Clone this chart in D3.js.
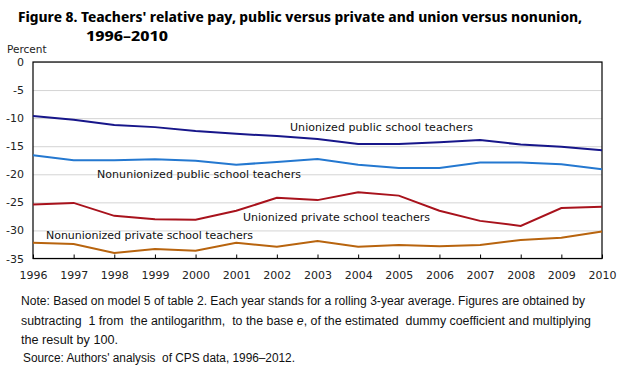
<!DOCTYPE html>
<html>
<head>
<meta charset="utf-8">
<script src="https://cdn.jsdelivr.net/npm/d3@7"></script>
<style>
  body { margin: 0; background: #fff; }
  svg { display: block; }
</style>
</head>
<body>
<div id="chart"></div>
<script>
// years and series
var years = [1996, 1997, 1998, 1999, 2000, 2001, 2002, 2003, 2004, 2005, 2006, 2007, 2008, 2009, 2010];
var unionPublic    = [-9.6, -10.3, -11.2, -11.6, -12.3, -12.8, -13.2, -13.7, -14.6, -14.6, -14.3, -13.9, -14.7, -15.1, -15.7];
var nonunionPublic = [-16.6, -17.5, -17.5, -17.3, -17.6, -18.3, -17.8, -17.3, -18.3, -18.9, -18.9, -17.9, -17.9, -18.2, -19.1];
var unionPrivate   = [-25.4, -25.1, -27.4, -28.0, -28.1, -26.5, -24.2, -24.6, -23.2, -23.8, -26.5, -28.3, -29.2, -26.0, -25.8];
var nonunionPrivate = [-32.2, -32.4, -34.0, -33.3, -33.6, -32.2, -32.9, -31.9, -32.9, -32.6, -32.8, -32.6, -31.7, -31.3, -30.2];
var yTicks = [0, -5, -10, -15, -20, -25, -30, -35];
var seriesNames = ["Unionized public school teachers", "Nonunionized public school teachers",
                   "Unionized private school teachers", "Nonunionized private school teachers"];

var W = 624, H = 375;
var svg = d3.select("#chart").append("svg").attr("width", W).attr("height", H);

var x = d3.scaleLinear().domain([1996, 2010]).range([33, 602]);
var y = d3.scaleLinear().domain([-35, 0]).range([258.5, 62]);

// title
var titleFont = "Noto Sans Display, Liberation Sans";
svg.append("text").attr("x", 18).attr("y", 22)
    .attr("font-family", titleFont).attr("font-weight", "bold").attr("font-size", 14.6)
    .attr("textLength", 564).attr("lengthAdjust", "spacingAndGlyphs")
    .text("Figure 8. Teachers' relative pay, public versus private and union versus nonunion,");
svg.append("text").attr("x", 86).attr("y", 41)
    .attr("font-family", titleFont).attr("font-weight", "bold").attr("font-size", 14.6)
    .attr("textLength", 82).attr("lengthAdjust", "spacingAndGlyphs")
    .text("1996–2010");

svg.append("text").attr("x", 7).attr("y", 53)
    .attr("font-family", "DejaVu Sans").attr("font-size", 10.5).attr("fill", "#222")
    .text("Percent");

// gridlines
svg.append("g")
    .attr("transform", "translate(" + x(1996) + ",0)")
    .call(d3.axisLeft(y).tickValues(yTicks).tickSize(-(x(2010) - x(1996))).tickFormat(""))
    .call(function (g) {
        g.select(".domain").remove();
        g.selectAll("line").attr("stroke", "#d4d4d4");
    });

// y labels (plain hyphen minus as in the original)
svg.append("g")
    .attr("transform", "translate(" + x(1996) + ",0)")
    .call(d3.axisLeft(y).tickValues(yTicks).tickSize(0).tickPadding(9).tickFormat(function (d) { return String(d); }))
    .call(function (g) {
        g.select(".domain").remove();
        g.selectAll("text").attr("font-family", "DejaVu Sans").attr("font-size", 11).attr("fill", "#222");
    });

// x axis, ticks pointing into the plot
svg.append("g")
    .attr("transform", "translate(0," + y(-35) + ")")
    .call(d3.axisBottom(x).tickValues(years).tickFormat(d3.format("d")).tickSizeInner(-4).tickSizeOuter(0).tickPadding(13))
    .call(function (g) {
        g.select(".domain").remove();
        g.selectAll("line").attr("stroke", "#000");
        g.selectAll("text").attr("font-family", "DejaVu Sans").attr("font-size", 11).attr("fill", "#222");
    });

// frame
svg.append("rect")
    .attr("x", x(1996)).attr("y", y(0))
    .attr("width", x(2010) - x(1996)).attr("height", y(-35) - y(0))
    .attr("fill", "none").attr("stroke", "#000").attr("stroke-width", 1.2);

var line = d3.line()
    .x(function (d, i) { return x(years[i]); })
    .y(function (d) { return y(d); });

var series = [
    { values: unionPublic, color: "#17168a" },
    { values: nonunionPublic, color: "#2478d0" },
    { values: unionPrivate, color: "#a8121c" },
    { values: nonunionPrivate, color: "#b8640e" }
];
series.forEach(function (s) {
    svg.append("path")
        .datum(s.values)
        .attr("d", line)
        .attr("fill", "none")
        .attr("stroke", s.color)
        .attr("stroke-width", 2);
});

// series labels
var labels = [
    { text: seriesNames[0], x: 290, y: 131, w: 183 },
    { text: seriesNames[1], x: 97, y: 178, w: 204 },
    { text: seriesNames[2], x: 243, y: 221, w: 187 },
    { text: seriesNames[3], x: 46, y: 239, w: 207 }
];
svg.selectAll(".lbl").data(labels).enter().append("text")
    .attr("class", "lbl")
    .attr("x", function (d) { return d.x; })
    .attr("y", function (d) { return d.y; })
    .attr("textLength", function (d) { return d.w; })
    .attr("lengthAdjust", "spacing")
    .attr("font-family", "DejaVu Sans").attr("font-size", 11).attr("fill", "#111")
    .text(function (d) { return d.text; });

// notes
var noteFont = "Liberation Sans";
function noteLine(px, py, w) {
    return svg.append("text")
        .attr("x", px).attr("y", py)
        .attr("textLength", w).attr("lengthAdjust", "spacingAndGlyphs")
        .attr("font-family", noteFont).attr("font-size", 12).attr("fill", "#111")
        .style("white-space", "pre");
}
noteLine(21, 305, 564)
    .text("Note: Based on model 5 of table 2. Each year stands for a rolling 3-year average. Figures are obtained by");
var l2 = noteLine(21, 325, 570);
l2.append("tspan").text("subtracting  1 from  the antilogarithm,  to the base ");
l2.append("tspan").attr("font-style", "italic").text("e");
l2.append("tspan").text(", of the estimated  dummy coefficient and multiplying");
noteLine(21, 344, 97).text("the result by 100.");
noteLine(23, 362, 272).text("Source: Authors' analysis  of CPS data, 1996–2012.");
</script>
</body>
</html>
